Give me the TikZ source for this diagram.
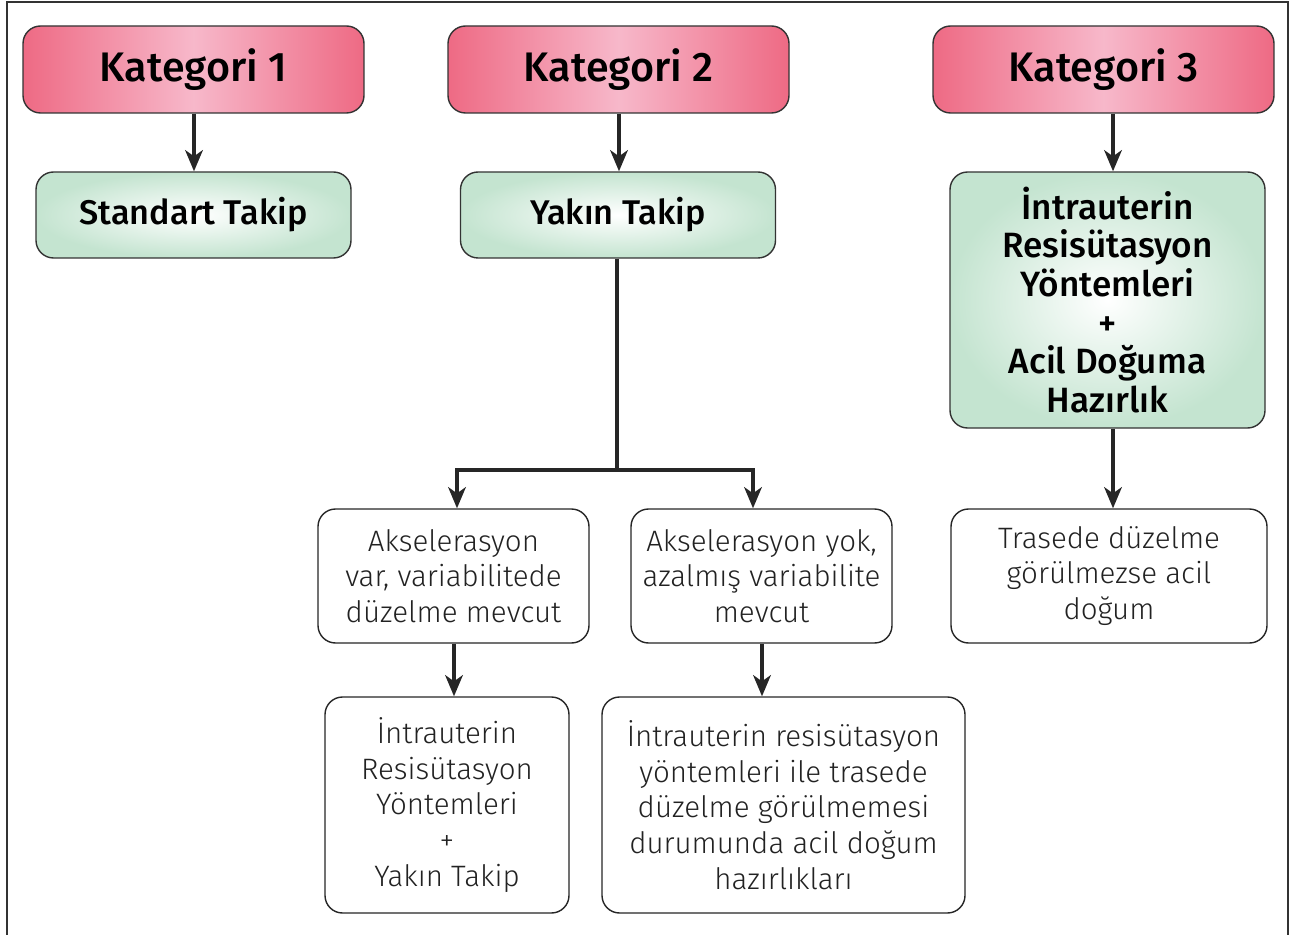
\documentclass[tikz,border=0pt]{standalone}
\usepackage{fontspec}
\setmainfont{Fira Sans}[UprightFont={* Light},BoldFont={* Medium}]
\usetikzlibrary{arrows.meta,positioning}
\definecolor{pinkdark}{HTML}{EE6A84}
\definecolor{pinklight}{HTML}{F7B8CA}
\definecolor{greenedge}{HTML}{C4E4D0}
\definecolor{txt}{HTML}{222222}
\begin{document}
\begin{tikzpicture}[x=0.02cm,y=-0.02cm,
  hdr/.style={draw=black!80,line width=0.8pt,rounded corners=10pt,left color=pinkdark,right color=pinkdark,middle color=pinklight,
    minimum width=341*0.02cm,minimum height=87*0.02cm,font=\bfseries\fontsize{23.5}{28}\selectfont,text=black},
  grn/.style={draw=black!80,line width=0.8pt,rounded corners=10pt,inner color=white,outer color=greenedge,
    minimum width=315*0.02cm,font=\bfseries\fontsize{19.5}{22}\selectfont,text=black,align=center},
  wbox/.style={draw=black!85,line width=0.8pt,rounded corners=10pt,fill=white,
    font=\fontsize{16.8}{20.3}\selectfont,text=txt,align=center,inner sep=0pt},
  arr/.style={line width=2.2pt,draw=black!85,-{Stealth[length=12pt,width=10pt,inset=3.5pt]}},
  ln/.style={line width=2.2pt,draw=black!85}]
\useasboundingbox (0,0) rectangle (1290,935);
\draw[line width=0.8pt,black!80] (7,940) -- (7,2) -- (1288,2) -- (1288,940);

\node[hdr] (k1) at (193.5,69.5) {Kategori 1};
\node[hdr] (k2) at (618.5,69.5) {Kategori 2};
\node[hdr] (k3) at (1103.5,69.5) {Kategori 3};

\node[grn,minimum height=86*0.02cm] (g1) at (193.5,215) {Standart Takip};
\node[grn,minimum height=86*0.02cm] (g2) at (618,215) {Yakın Takip};
\node[grn,minimum height=256*0.02cm,font=\bfseries\fontsize{20}{22}\selectfont] (g3) at (1107.5,300) {İntrauterin\\Resisütasyon\\Yöntemleri\\+\\Acil Doğuma\\Hazırlık};

\node[wbox,minimum width=271*0.02cm,minimum height=134*0.02cm] (a1) at (453.5,576) {Akselerasyon\\var, variabilitede\\düzelme mevcut};
\node[wbox,minimum width=261*0.02cm,minimum height=134*0.02cm] (a2) at (761.5,576) {Akselerasyon yok,\\azalmış variabilite\\mevcut};
\node[wbox,minimum width=316*0.02cm,minimum height=134*0.02cm] (a3) at (1109,576) {Trasede düzelme\\görülmezse acil\\doğum};

\node[wbox,minimum width=244*0.02cm,minimum height=216*0.02cm] (b1) at (447,805) {İntrauterin\\Resisütasyon\\Yöntemleri\\+\\Yakın Takip};
\node[wbox,minimum width=363*0.02cm,minimum height=216*0.02cm] (b2) at (783.5,805) {İntrauterin resisütasyon\\yöntemleri ile trasede\\düzelme görülmemesi\\durumunda acil doğum\\hazırlıkları};

\draw[arr] (k1.south -| 194,0) -- (g1.north -| 194,0);
\draw[arr] (k2.south -| 619,0) -- (g2.north -| 619,0);
\draw[arr] (k3.south -| 1113,0) -- (g3.north -| 1113,0);
\coordinate (j) at (617,470);
\draw[ln] (g2.south -| j) -- (j);
\draw[arr] (j) -| (a1.north -| 457,0);
\draw[arr] (j) -| (a2.north -| 753,0);
\draw[arr] (a1.south -| 454,0) -- (b1.north -| 454,0);
\draw[arr] (a2.south -| 762,0) -- (b2.north -| 762,0);
\draw[arr] (g3.south -| 1113,0) -- (a3.north -| 1113,0);
\end{tikzpicture}
\end{document}
